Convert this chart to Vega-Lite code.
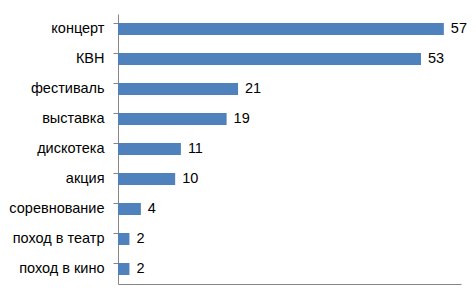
{
  "$schema": "https://vega.github.io/schema/vega-lite/v6.json",
  "width": 343,
  "height": 270,
  "autosize": {"type": "none"},
  "padding": {"left": 118, "top": 14, "right": 15, "bottom": 16},
  "background": "white",
  "config": {"view": {"stroke": null}, "font": "Liberation Sans"},
  "data": {
    "values": [
      {"event": "концерт", "count": 57},
      {"event": "КВН", "count": 53},
      {"event": "фестиваль", "count": 21},
      {"event": "выставка", "count": 19},
      {"event": "дискотека", "count": 11},
      {"event": "акция", "count": 10},
      {"event": "соревнование", "count": 4},
      {"event": "поход в театр", "count": 2},
      {"event": "поход в кино", "count": 2}
    ]
  },
  "encoding": {
    "y": {
      "field": "event",
      "type": "nominal",
      "sort": null,
      "scale": {"paddingInner": 0.6, "paddingOuter": 0.3},
      "axis": {
        "title": null,
        "bandPosition": 0,
        "domainColor": "#868686",
        "tickColor": "#868686",
        "tickSize": 5,
        "labelPadding": 9,
        "labelFontSize": 14.5,
        "labelColor": "#000000"
      }
    },
    "x": {
      "field": "count",
      "type": "quantitative",
      "scale": {"domain": [0, 60]},
      "axis": {
        "title": null,
        "labels": false,
        "ticks": false,
        "grid": false,
        "domainColor": "#868686"
      }
    }
  },
  "layer": [
    {"mark": {"type": "bar", "color": "#4F81BD"}},
    {
      "mark": {"type": "text", "align": "left", "dx": 7, "fontSize": 14.5, "color": "#000000"},
      "encoding": {"text": {"field": "count", "type": "quantitative"}}
    }
  ]
}
